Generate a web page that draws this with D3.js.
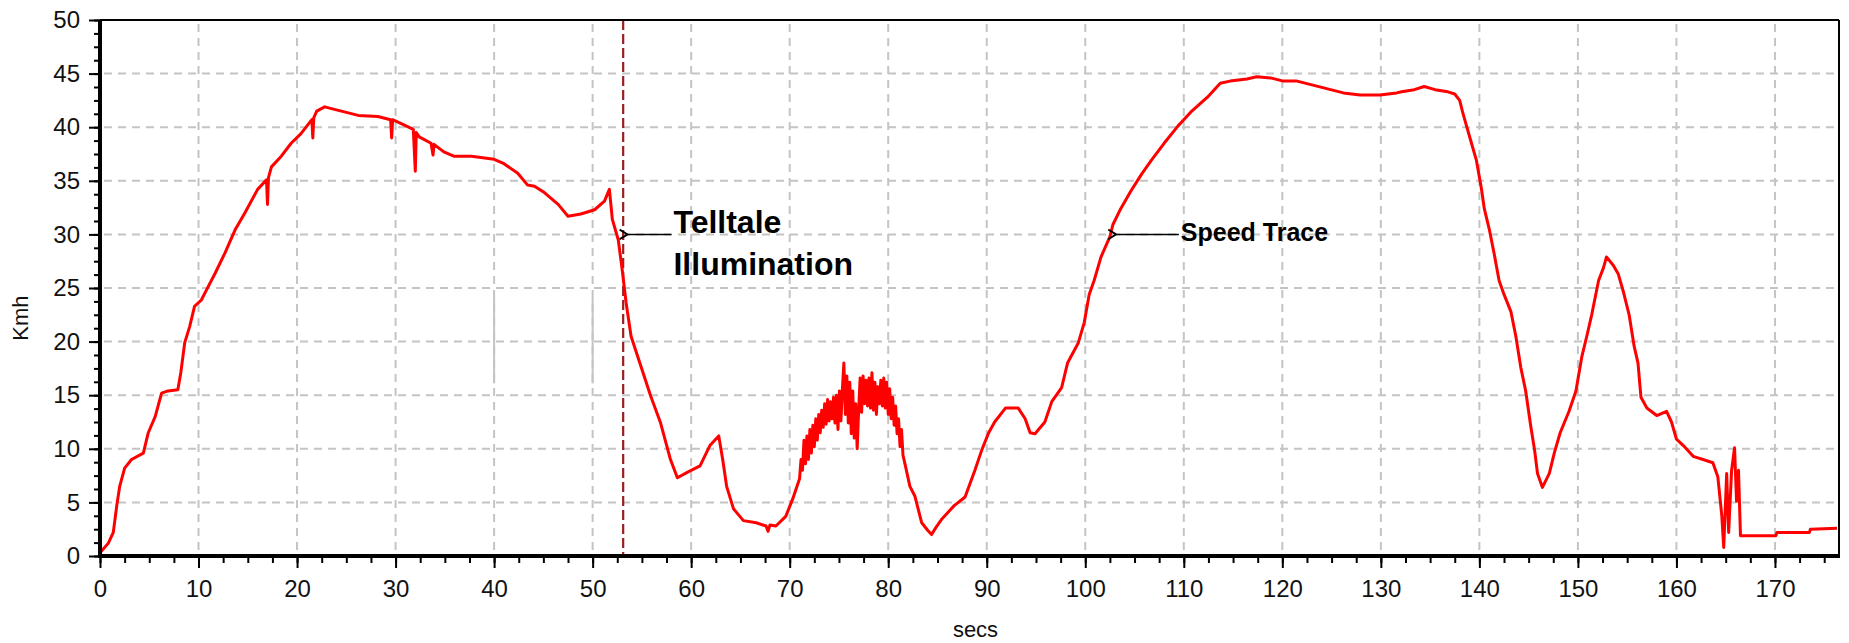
<!DOCTYPE html>
<html>
<head>
<meta charset="utf-8">
<script src="https://cdn.jsdelivr.net/npm/d3@7"></script>
<style>
  html, body { margin: 0; padding: 0; background: #ffffff; }
  svg { display: block; }
  text { font-family: "Liberation Sans", Arial, sans-serif; }
</style>
</head>
<body>
<svg id="chart" width="1849" height="643"></svg>
<script>
// ---- data ----
const timeSecs = [
  0,0.85,1.35,1.7,2.0,2.5,3.2,4.4,4.9,5.6,6.25,6.9,7.9,8.2,8.6,9.1,9.6,10.3,10.8,11.7,
  12.7,13.7,14.7,16.0,16.9,17.0,17.1,17.4,18.4,19.4,20.4,21.5,21.6,21.7,22.0,22.8,24.5,26.2,28.2,29.5,
  29.6,29.7,30.9,31.8,32.0,32.1,32.4,33.6,33.8,33.9,34.9,35.9,37.7,40.0,41.0,42.4,43.4,44.1,45.1,46.5,
  47.5,48.8,50.2,51.2,51.7,52.0,52.6,53.0,53.4,53.9,54.9,55.9,56.9,57.9,58.6,59.6,60.9,61.9,62.8,63.2,
  63.6,64.3,65.3,66.6,67.6,67.8,68.0,68.6,69.6,70.3,
  71.0,71.15,71.3,71.45,71.6,71.75,71.9,72.05,72.2,72.35,72.5,72.65,72.8,72.95,73.1,73.25,73.4,73.55,73.7,73.85,
  74.0,74.15,74.3,74.45,74.6,74.75,74.9,75.05,75.2,75.35,75.5,75.65,75.8,75.95,76.1,76.25,76.4,76.55,76.7,76.85,
  77.0,77.15,77.3,77.45,77.6,77.75,77.9,78.05,78.2,78.35,78.5,78.65,78.8,78.95,79.1,79.25,79.4,79.55,79.7,79.85,
  80.0,80.15,80.3,80.45,80.6,80.75,80.9,81.05,81.2,81.35,81.5,81.7,
  82.2,82.7,83.4,84.0,84.4,84.8,85.4,86.7,87.8,88.8,89.5,90.2,
  90.8,91.9,93.2,93.9,94.4,94.9,95.9,96.6,97.6,98.2,99.3,99.9,100.4,100.9,101.6,102.5,102.8,103.6,104.6,105.7,
  106.7,108.0,109.4,110.7,112.4,113.7,114.7,116.4,117.4,118.8,120.1,121.5,123.2,124.5,126.2,127.9,129.9,131.6,132.1,133.4,
  134.4,135.5,136.8,137.5,138.0,138.3,138.7,139.2,139.7,140.2,140.5,141.0,141.5,142.0,142.5,143.2,143.7,144.2,144.7,145.2,
  145.6,145.9,146.4,147.1,147.6,148.2,149.1,149.8,150.4,150.9,151.4,152.1,152.6,152.9,153.6,154.1,154.6,155.2,155.7,156.1,
  156.4,157.0,158.0,159.0,159.5,160.0,160.7,161.7,162.7,163.7,164.2,164.6,164.8,165.1,165.3,165.6,165.9,166.1,166.3,166.5,
  170.1,170.2,173.5,173.6,176.3
];
const speedKmh = [
  0.3,1.2,2.2,4.7,6.5,8.2,9.0,9.6,11.5,13.0,15.2,15.4,15.5,17.1,19.9,21.4,23.3,23.9,24.8,26.4,
  28.3,30.4,32.0,34.2,35.1,32.8,35.3,36.3,37.3,38.5,39.4,40.7,39.0,40.9,41.5,41.9,41.5,41.1,41.0,40.7,
  39.0,40.7,40.2,39.8,35.9,39.5,39.1,38.5,37.4,38.4,37.7,37.3,37.3,37.0,36.6,35.7,34.6,34.5,33.9,32.8,
  31.7,31.9,32.3,33.1,34.2,31.4,29.5,26.7,23.6,20.5,17.7,14.9,12.4,9.0,7.3,7.8,8.4,10.3,11.2,9.0,
  6.5,4.4,3.3,3.1,2.8,2.3,2.9,2.8,3.7,5.3,
  7.2,9.0,8.0,10.8,8.6,11.2,9.0,11.8,9.6,12.2,10.2,12.8,10.8,13.2,11.5,13.6,12.0,14.2,12.3,14.6,
  12.6,14.4,12.8,14.8,12.4,15.0,11.8,15.4,12.6,15.6,18.0,13.2,16.8,12.4,16.2,11.4,15.4,11.0,14.2,10.0,
  13.6,16.6,13.4,16.8,14.2,16.4,14.0,16.6,13.8,17.1,13.6,16.2,13.2,15.8,14.2,16.4,14.0,16.6,13.8,16.2,
  13.2,15.6,12.8,14.8,12.2,14.0,11.4,12.8,10.2,11.8,9.4,8.6,
  6.5,5.6,3.1,2.4,2.0,2.6,3.4,4.7,5.5,8.0,9.9,11.5,
  12.5,13.8,13.8,12.8,11.5,11.4,12.5,14.4,15.7,18.0,19.9,21.8,24.4,25.7,27.9,29.8,30.9,32.4,34.0,35.6,
  36.9,38.5,40.1,41.4,42.8,44.1,44.3,44.5,44.7,44.6,44.3,44.3,43.9,43.6,43.2,43.0,43.0,43.2,43.3,43.5,
  43.8,43.5,43.3,43.1,42.5,41.4,40.1,38.5,36.9,34.3,32.4,30.5,28.2,25.7,24.4,22.8,20.5,17.6,15.4,12.2,
  9.9,7.7,6.4,7.7,9.6,11.5,13.5,15.4,18.6,20.5,22.5,25.7,26.9,27.9,27.1,26.3,24.7,22.5,19.6,18.0,
  14.8,13.8,13.1,13.5,12.5,10.9,10.3,9.3,9.0,8.7,7.4,3.8,0.8,7.7,2.2,8.0,10.1,5.1,8.0,1.9,
  1.9,2.2,2.2,2.5,2.6
];
const xTicks = [0,10,20,30,40,50,60,70,80,90,100,110,120,130,140,150,160,170];
const yTicks = [0,5,10,15,20,25,30,35,40,45,50];
const xDomain = [0, 176.5];
const yDomain = [0, 50];
const telltaleTime = 53.1;           // dashed marker
const greyMarkTimes = [40, 50];       // short solid grey markers
const greyMarkRange = [16.1, 24.1];
const annotations = [
  { lines: ["Telltale", "Illumination"], tipX: 53.6, tailX: 58.0, y: 30, size: 32 },
  { lines: ["Speed Trace"], tipX: 103.2, tailX: 109.5, y: 30, size: 25 }
];
const xLabel = "secs";
const yLabel = "Kmh";

// ---- layout ----
const svg = d3.select("#chart");
const L = 100, R = 1839, T = 20, B = 556;
const x = d3.scaleLinear().domain(xDomain).range([L, R]);
const y = d3.scaleLinear().domain(yDomain).range([B, T]);

svg.append("rect").attr("width", 1849).attr("height", 643).attr("fill", "#ffffff");

// grid
const grid = svg.append("g").attr("stroke", "#c4c4c4").attr("stroke-width", 2)
  .attr("stroke-dasharray", "8,6");
grid.selectAll("line.h").data(yTicks.filter(d => d > 0 && d < 50)).join("line")
  .attr("x1", L + 4).attr("x2", R).attr("y1", d => y(d)).attr("y2", d => y(d));
grid.selectAll("line.v").data(xTicks.filter(d => d > 0)).join("line")
  .attr("y1", T + 4).attr("y2", B).attr("x1", d => x(d)).attr("x2", d => x(d));

// grey solid markers
svg.append("g").selectAll("line").data(greyMarkTimes).join("line")
  .attr("x1", d => x(d)).attr("x2", d => x(d))
  .attr("y1", y(greyMarkRange[0])).attr("y2", y(greyMarkRange[1]))
  .attr("stroke", "#c4c4c4").attr("stroke-width", 2);

// telltale dashed line
svg.append("line")
  .attr("x1", x(telltaleTime)).attr("x2", x(telltaleTime))
  .attr("y1", T).attr("y2", B)
  .attr("stroke", "#9a1f1f").attr("stroke-width", 2.2)
  .attr("stroke-dasharray", "10,4");

// speed trace
const pts = timeSecs.map((t, i) => [t, speedKmh[i]]);
svg.append("path").datum(pts)
  .attr("fill", "none").attr("stroke", "#ff0000").attr("stroke-width", 3)
  .attr("stroke-linejoin", "round")
  .attr("d", d3.line().x(d => x(d[0])).y(d => y(d[1])));

// frame
svg.append("line").attr("x1", L).attr("x2", R).attr("y1", T).attr("y2", T)
  .attr("stroke", "#000").attr("stroke-width", 2);
svg.append("line").attr("x1", R).attr("x2", R).attr("y1", T).attr("y2", B)
  .attr("stroke", "#000").attr("stroke-width", 2);

// axes
const fontSize = 24;
const xMinor = d3.range(0, 176.5, 2.5);
const yMinor = d3.range(0, 50.01, 1.25);

const gx = svg.append("g").attr("transform", `translate(0,${B})`)
  .call(d3.axisBottom(x).tickValues(xTicks).tickSize(12).tickPadding(12).tickFormat(d3.format("d")));
const gxm = svg.append("g").attr("transform", `translate(0,${B})`)
  .call(d3.axisBottom(x).tickValues(xMinor).tickSize(7).tickFormat(""));
const gy = svg.append("g").attr("transform", `translate(${L},0)`)
  .call(d3.axisLeft(y).tickValues(yTicks).tickSize(11).tickPadding(9).tickFormat(d3.format("d")));
const gym = svg.append("g").attr("transform", `translate(${L},0)`)
  .call(d3.axisLeft(y).tickValues(yMinor).tickSize(6).tickFormat(""));

[gx, gxm, gy, gym].forEach(g => {
  g.select(".domain").remove();
  g.selectAll(".tick line").attr("stroke", "#000").attr("stroke-width", 2);
  g.selectAll(".tick text").attr("fill", "#111").attr("font-size", fontSize)
    .attr("font-family", "'Liberation Sans', Arial, sans-serif");
});

// thick axis lines
svg.append("line").attr("x1", L).attr("x2", L).attr("y1", T).attr("y2", B + 1.5)
  .attr("stroke", "#000").attr("stroke-width", 4);
svg.append("line").attr("x1", L - 1.5).attr("x2", R + 1).attr("y1", B).attr("y2", B)
  .attr("stroke", "#000").attr("stroke-width", 4);

// axis titles
svg.append("text").attr("x", (L + R) / 2 + 6).attr("y", 637)
  .attr("text-anchor", "middle").attr("font-size", 22).attr("fill", "#111").text(xLabel);
svg.append("text").attr("transform", "translate(28,318) rotate(-90)")
  .attr("text-anchor", "middle").attr("font-size", 22).attr("fill", "#111").text(yLabel);

// annotations
const defs = svg.append("defs");
defs.append("marker").attr("id", "arr").attr("viewBox", "0 0 10 10")
  .attr("refX", 0.5).attr("refY", 5).attr("markerWidth", 10).attr("markerHeight", 12)
  .attr("markerUnits", "userSpaceOnUse").attr("orient", "auto-start-reverse")
  .attr("preserveAspectRatio", "none")
  .append("path").attr("d", "M9,1 L1,5 L9,9").attr("fill", "none")
  .attr("stroke", "#000").attr("stroke-width", 1.6);

annotations.forEach(a => {
  svg.append("line")
    .attr("x1", x(a.tipX)).attr("x2", x(a.tailX))
    .attr("y1", y(a.y)).attr("y2", y(a.y))
    .attr("stroke", "#000").attr("stroke-width", 1.5)
    .attr("marker-start", "url(#arr)");
  const t = svg.append("text").attr("font-weight", "bold").attr("font-size", a.size)
    .attr("fill", "#000");
  a.lines.forEach((ln, i) => {
    t.append("tspan").attr("x", x(a.tailX) + 2)
      .attr("y", y(a.y) + (a.lines.length > 1 ? -1 : 7) + i * 42)
      .text(ln);
  });
});
</script>
</body>
</html>
